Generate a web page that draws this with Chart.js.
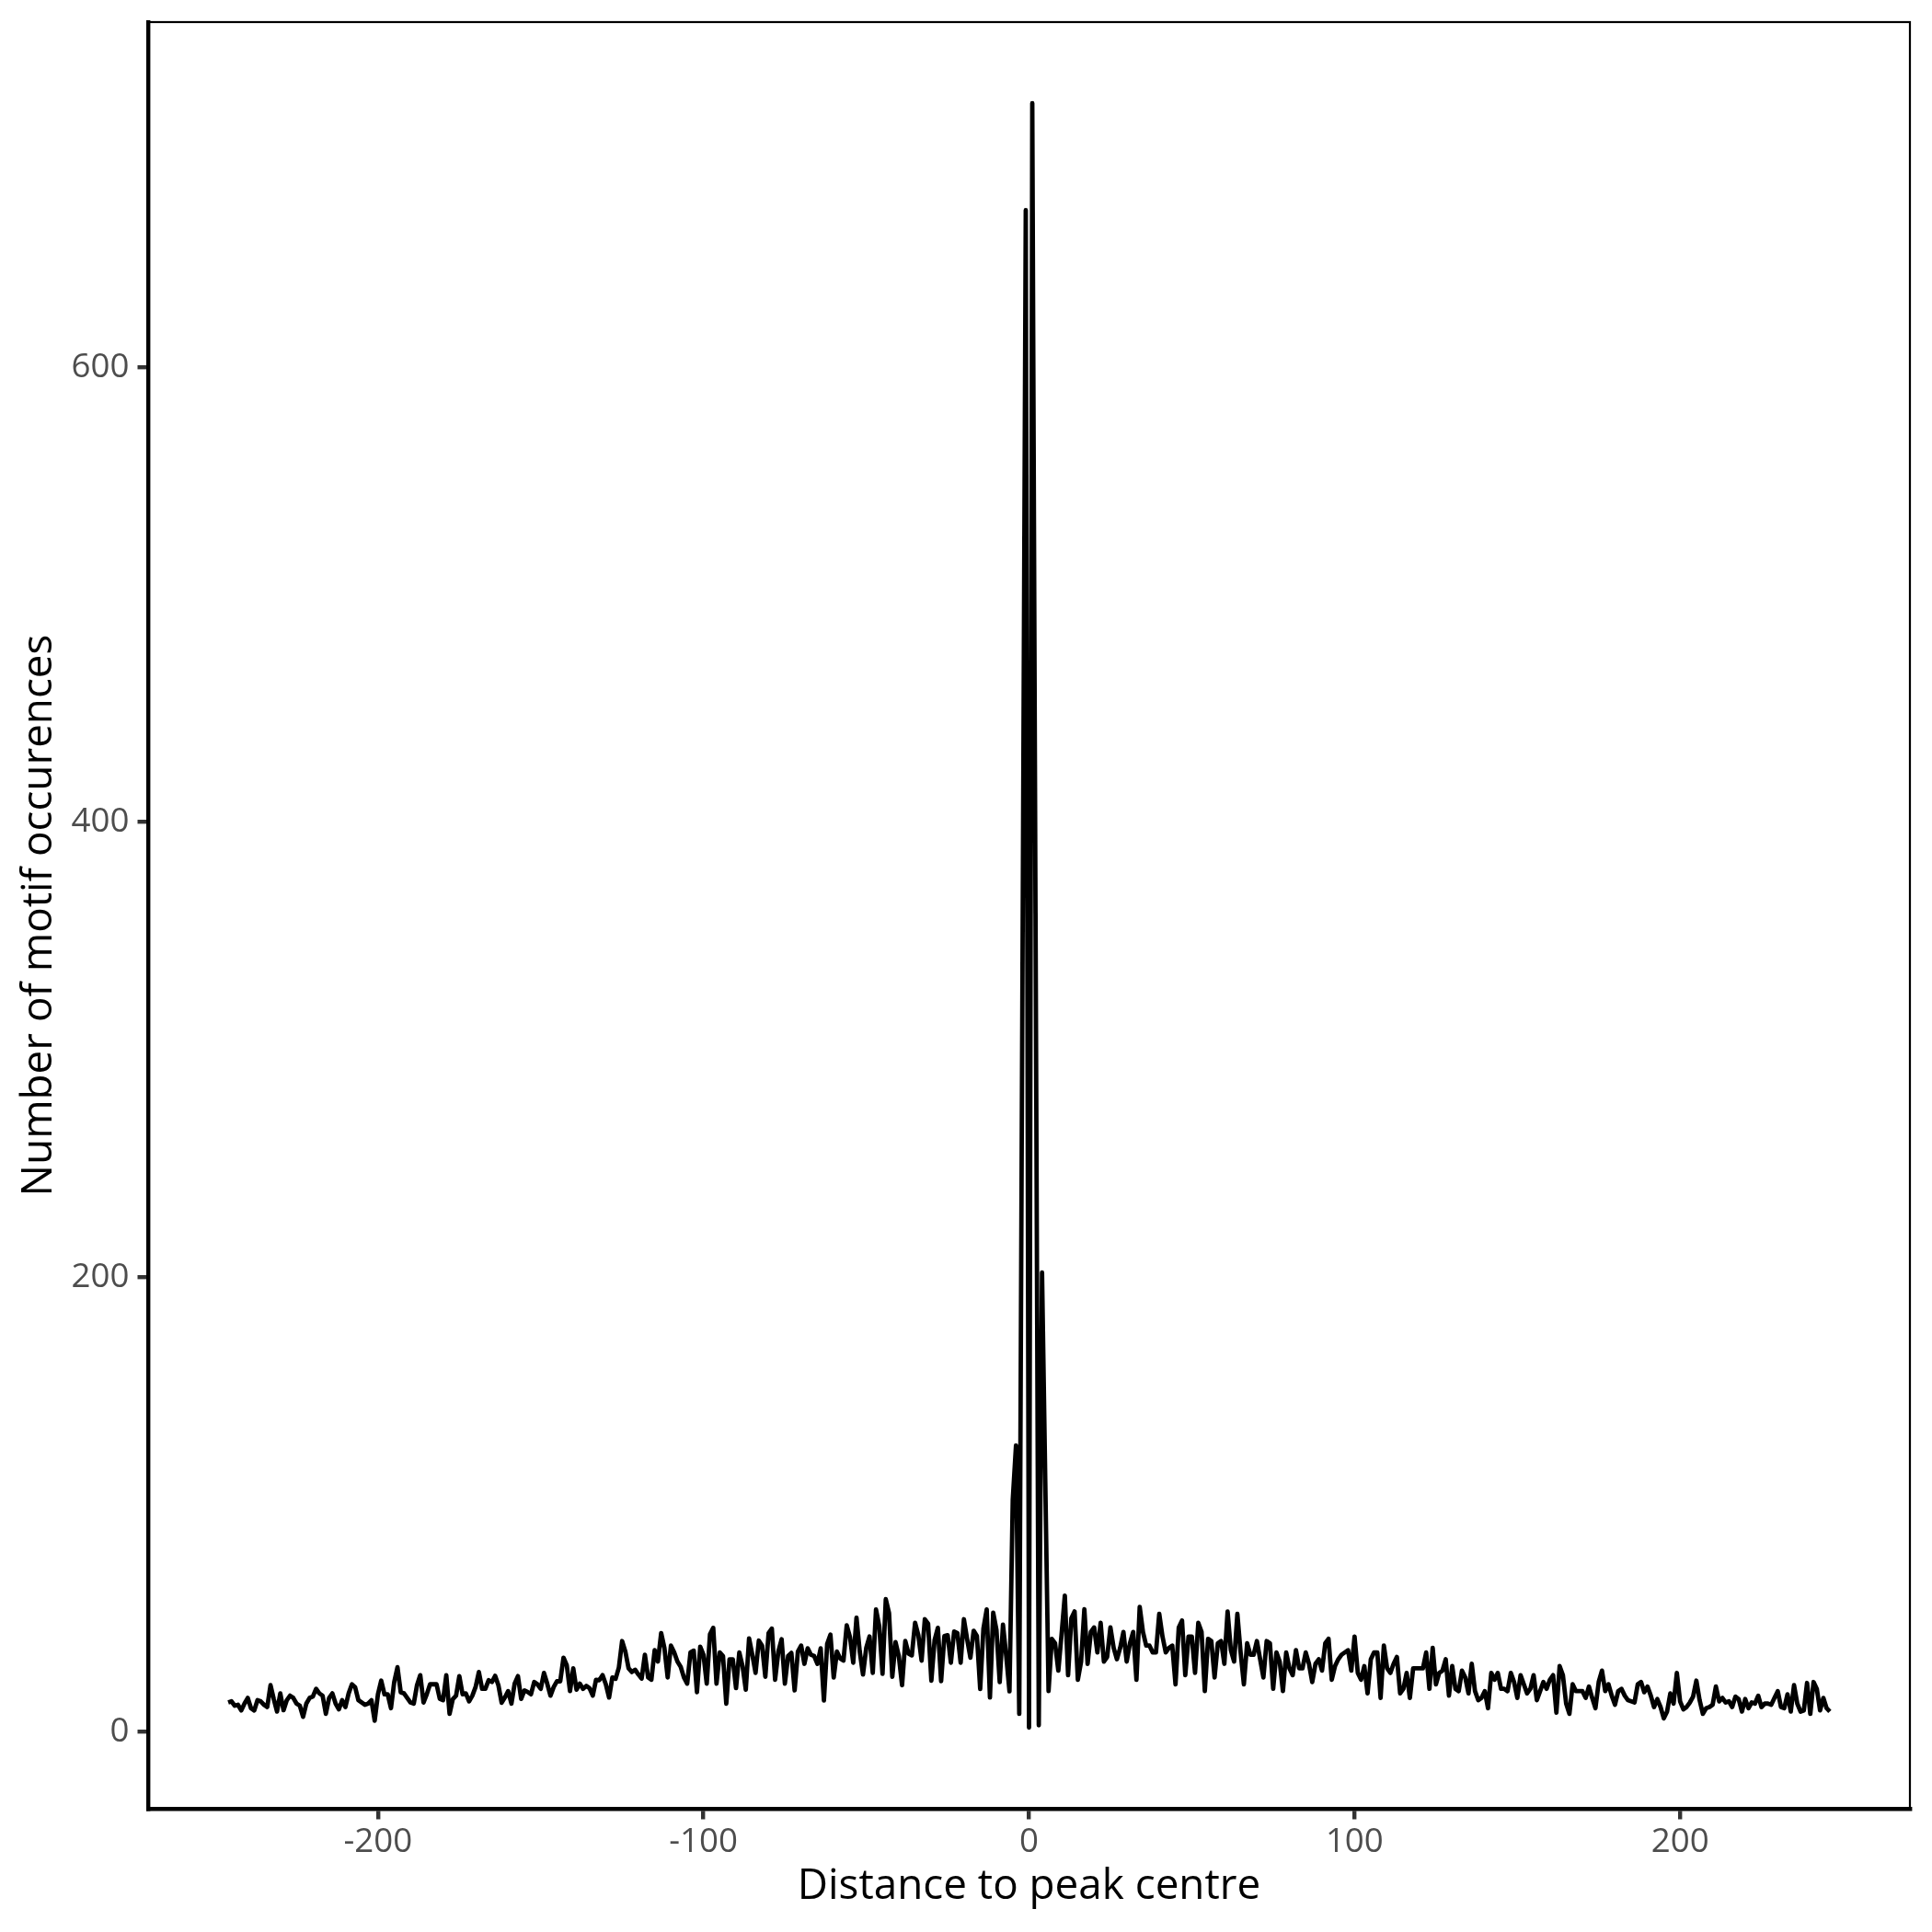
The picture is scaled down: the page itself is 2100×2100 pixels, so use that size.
<!DOCTYPE html>
<html>
<head>
<meta charset="utf-8">
<script src="https://cdn.jsdelivr.net/npm/chart.js@4.4.1/dist/chart.umd.min.js"></script>
<style>
html,body{margin:0;padding:0;background:#ffffff;}
#wrap{width:2100px;height:2100px;}
canvas{display:block;}
</style>
</head>
<body>
<div id="wrap"><canvas id="chart" width="2100" height="2100"></canvas></div>
<script>
// ---- data ----
const distanceFirst = -246;   // first distance on the x axis
const distanceLast = 246;     // last distance on the x axis

// motif occurrence counts, one per distance from -246 to 246
const countsLeftFar = [ // -246 .. -184
  13, 13.5, 11.6, 12, 9.5, 12.5, 15, 10.5, 9.5, 14, 13.5, 12, 11, 20.6, 14.5, 9, 17, 9.6, 14, 16,
  15, 12.5, 11.6, 6.7, 12.5, 15, 15.6, 19, 17, 16, 8, 15, 17, 12.5, 10, 14, 11, 17, 21, 19.7,
  14, 13, 12, 12.5, 14, 5, 16.6, 22.6, 16.6, 16.6, 10.5, 22, 28.5, 17.5, 17, 15, 13, 12.5, 20.6, 25,
  13, 16.6, 21
];
const countsLeftMid = [ // -183 .. -122
  21, 21, 14.6, 14, 25, 8, 14.5, 16, 24.6, 16.6, 17, 13.5, 16, 19.8, 26.4, 19, 19, 22.8, 22, 24.7,
  20.6, 12.9, 15.2, 18, 12.5, 21.3, 24.6, 14.6, 18.3, 17.6, 16.6, 22, 21, 19, 26, 21.3, 16, 19.8, 22.4, 22.3,
  32.7, 29.4, 18, 28, 18.6, 21.3, 19, 20.3, 19.3, 16, 23, 22.8, 25, 21, 15.2, 24, 23.4, 28.3, 40, 35.4,
  28, 26.4
];
const countsLeftNear = [ // -121 .. -60
  27.4, 25.3, 23.5, 34, 24, 23, 36, 31, 43.5, 37, 24, 38, 35, 31, 28.7, 24, 21.3, 35, 35.8, 17.5,
  37.5, 34, 21.3, 43, 45.8, 21.3, 35, 33.4, 12.5, 32, 32, 19.3, 35, 29, 18.6, 41.2, 34, 26, 40.2, 38,
  24.3, 43.5, 45.5, 23, 35.4, 40.8, 21.3, 33.4, 34.8, 18.3, 35.4, 38, 30, 36.8, 34, 33.4, 30, 36.8, 13.9, 38.8,
  42.8, 24
];
const countsLeftInner = [ // -59 .. -6
  35.4, 32.3, 31.4, 46.9, 41.8, 30.5, 50.3, 35.4, 25.3, 37, 42, 26, 53.9, 46.5, 25.6, 58.4, 52.3, 24.3, 39.5, 33.4,
  20.6, 40, 34.5, 33.7, 48, 42.6, 31.4, 49.6, 47.6, 22.6, 40.5, 45.8, 22.4, 42.2, 42.6, 30.5, 44.2, 43.5, 30.5, 49.6,
  40.8, 32.7, 44.5, 42.2, 18.9, 45.5, 53.9, 15.2, 52.5, 44.9, 22, 47.2, 33.4, 17.9
];
const countsCentre = [ // -5 .. 6
  102, 126, 8, 338, 669, 2, 716, 360, 3, 202, 110, 18
];
const countsRightInner = [ // 7 .. 59
  41, 39, 27, 43, 60, 25, 50, 53, 23, 31, 54, 30, 44, 46, 35, 48, 31, 33, 46, 37,
  32, 37, 44, 31, 39, 44, 23, 55, 44, 38, 38, 35, 35, 52, 42, 35, 37, 38, 21, 46,
  49, 25, 42, 42, 26, 48, 44, 18, 41, 40, 24, 39, 40
];
const countsRightNear = [ // 60 .. 121
  30, 53, 36, 31, 52, 35, 21, 39, 34, 34, 40, 32, 24, 40, 39, 19, 35, 31, 18, 35,
  28, 25, 36, 28, 28, 35, 30, 22, 30, 32, 27, 39, 41, 23, 29, 32, 34, 35, 36, 27,
  42, 26, 23, 29, 17, 32, 35, 35, 15, 38, 28, 26, 30, 33, 17, 19, 26, 15, 28, 28,
  28, 28
];
const countsRightMid = [ // 122 .. 184
  35, 19, 37, 21, 26, 27, 32, 16, 29, 19, 18, 27, 24, 17, 30, 18, 14, 15, 18, 10.5,
  26, 23, 26, 19, 19, 18, 26, 22, 15, 25, 21, 17, 19, 25, 14, 18, 22, 19, 23, 25,
  8.5, 29, 25, 12.5, 8, 21, 18, 18, 18, 15, 20, 15, 10.5, 22, 27, 18, 21, 16, 12, 18,
  19, 16, 14
];
const countsRightFar = [ // 185 .. 246
  13.5, 13, 21, 22, 17.5, 20, 16, 11, 14.5, 11, 6, 9, 17, 12.5, 26, 13.5, 10, 11, 13, 15.6,
  22.6, 14, 8, 10.5, 11, 12, 20, 13.5, 15, 13, 13.5, 11, 15.6, 14.5, 9, 14.5, 10.5, 13, 12.5, 16,
  11, 12.5, 12.5, 12, 15, 18, 11, 10.5, 16.6, 9, 20.6, 12.5, 9, 9.5, 21.6, 8, 22, 19, 9.5, 15,
  10.5, 9
];

const xTickValues = [-200, -100, 0, 100, 200];
const yTickValues = [0, 200, 400, 600];
const xAxisTitle = 'Distance to peak centre';
const yAxisTitle = 'Number of motif occurences';

// ---- build the series ----
const motifCounts = [].concat(countsLeftFar, countsLeftMid, countsLeftNear, countsLeftInner,
  countsCentre, countsRightInner, countsRightNear, countsRightMid, countsRightFar);
const distances = [];
for (let d = distanceFirst; d <= distanceLast; d++) distances.push(d);
const points = distances.map((d, i) => ({x: d, y: motifCounts[i]}));

// ggplot-like 5% expansion of the data range
const yMinData = Math.min(...motifCounts), yMaxData = Math.max(...motifCounts);
const xSpan = distanceLast - distanceFirst, ySpan = yMaxData - yMinData;
const xLimits = [distanceFirst - 0.05 * xSpan, distanceLast + 0.05 * xSpan];
const yLimits = [yMinData - 0.05 * ySpan, yMaxData + 0.05 * ySpan];

const FONT = '"Open Sans", "Noto Sans", "DejaVu Sans", sans-serif';

const panelBorder = {
  id: 'panelBorder',
  afterDraw(chart) {
    const {ctx, chartArea: a} = chart;
    ctx.save();
    ctx.strokeStyle = '#000000';
    ctx.lineWidth = 2.2;
    ctx.strokeRect(a.left, a.top, a.right - a.left, a.bottom - a.top);
    ctx.restore();
  }
};

new Chart(document.getElementById('chart'), {
  type: 'line',
  data: {
    datasets: [{
      data: points,
      borderColor: '#000000',
      borderWidth: 4.8,
      borderJoinStyle: 'round',
      borderCapStyle: 'butt',
      pointRadius: 0,
      tension: 0,
      fill: false
    }]
  },
  options: {
    responsive: false,
    animation: false,
    devicePixelRatio: 1,
    layout: {padding: {top: 24, right: 24, left: 0, bottom: 0}},
    plugins: {legend: {display: false}, tooltip: {enabled: false}, title: {display: false}},
    scales: {
      x: {
        type: 'linear',
        min: xLimits[0],
        max: xLimits[1],
        afterBuildTicks: s => { s.ticks = xTickValues.map(v => ({value: v})); },
        afterFit: s => { s.height = 134; s.paddingLeft = 0; s.paddingRight = 0; },
        grid: {drawOnChartArea: false, drawTicks: true, tickLength: 11.5, tickWidth: 4.4,
               tickColor: '#333333', color: '#333333', lineWidth: 4.4},
        border: {display: true, color: '#000000', width: 4.4},
        ticks: {color: '#4D4D4D', font: {family: FONT, size: 36.7}, padding: 3,
                maxRotation: 0, autoSkip: false, callback: v => String(v)},
        title: {display: true, text: xAxisTitle, color: '#000000',
                font: {family: FONT, size: 45.8}, padding: {top: 0, bottom: 22}}
      },
      y: {
        type: 'linear',
        min: yLimits[0],
        max: yLimits[1],
        afterBuildTicks: s => { s.ticks = yTickValues.map(v => ({value: v})); },
        afterFit: s => { s.width = 161; s.paddingTop = 0; s.paddingBottom = 0; },
        grid: {drawOnChartArea: false, drawTicks: true, tickLength: 11.5, tickWidth: 4.4,
               tickColor: '#333333', color: '#333333', lineWidth: 4.4},
        border: {display: true, color: '#000000', width: 4.4},
        ticks: {color: '#4D4D4D', font: {family: FONT, size: 36.7}, padding: 9,
                autoSkip: false, callback: v => String(v)},
        title: {display: true, text: yAxisTitle, color: '#000000',
                font: {family: FONT, size: 45.8}, padding: {top: 15, bottom: 0}}
      }
    }
  },
  plugins: [panelBorder]
});
</script>
</body>
</html>
